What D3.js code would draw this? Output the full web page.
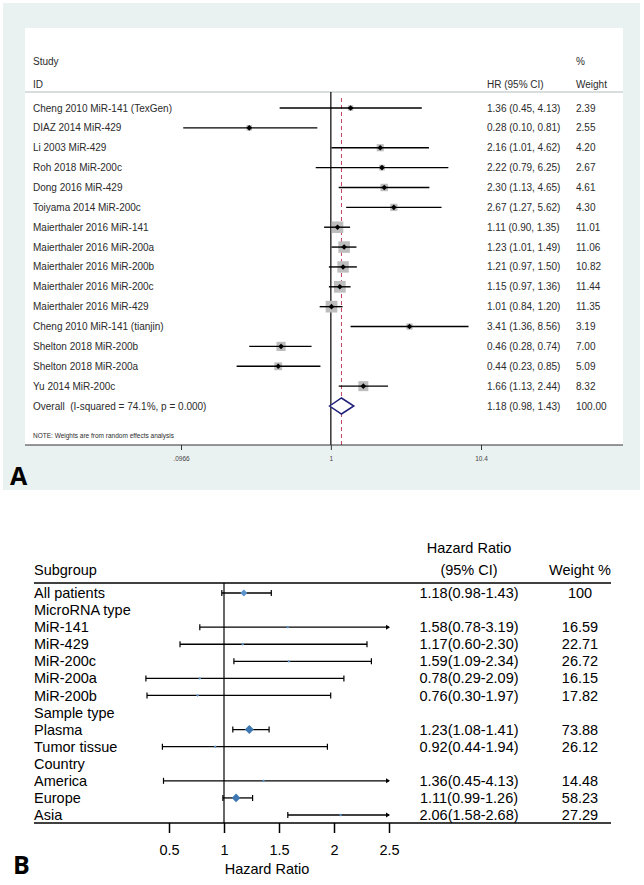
<!DOCTYPE html>
<html>
   <head>
      <script src="https://d3js.org/d3.v7.min.js"></script>
   </head>

   <style>
      body {
         margin: 0;
         background: white;
      }

      svg {
         font-family: "Liberation Sans", Arial, sans-serif;
      }
   </style>
   <body>
      <svg id="chart" width="644" height="885"></svg>

      <script>
         // ---- Panel A data (forest plot of studies) ----
         let studies = [
            'Cheng 2010 MiR-141 (TexGen)', 'DIAZ 2014 MiR-429', 'Li 2003 MiR-429',
            'Roh 2018 MiR-200c', 'Dong 2016 MiR-429', 'Toiyama 2014 MiR-200c',
            'Maierthaler 2016 MiR-141', 'Maierthaler 2016 MiR-200a', 'Maierthaler 2016 MiR-200b',
            'Maierthaler 2016 MiR-200c', 'Maierthaler 2016 MiR-429', 'Cheng 2010 MiR-141 (tianjin)',
            'Shelton 2018 MiR-200b', 'Shelton 2018 MiR-200a', 'Yu 2014 MiR-200c'
         ];
         let studyHR = [1.36, 0.28, 2.16, 2.22, 2.30, 2.67, 1.11, 1.23, 1.21, 1.15, 1.01, 3.41, 0.46, 0.44, 1.66];
         let studyLo = [0.45, 0.10, 1.01, 0.79, 1.13, 1.27, 0.90, 1.01, 0.97, 0.97, 0.84, 1.36, 0.28, 0.23, 1.13];
         let studyHi = [4.13, 0.81, 4.62, 6.25, 4.65, 5.62, 1.35, 1.49, 1.50, 1.36, 1.20, 8.56, 0.74, 0.85, 2.44];
         let studyWeight = [2.39, 2.55, 4.20, 2.67, 4.61, 4.30, 11.01, 11.06, 10.82, 11.44, 11.35, 3.19, 7.00, 5.09, 8.32];
         let overallA = {label: 'Overall  (I-squared = 74.1%, p = 0.000)', hr: 1.18, lo: 0.98, hi: 1.43, weight: 100.00};
         let ticksA = [0.0966, 1, 10.4];
         let tickLabelsA = ['.0966', '1', '10.4'];

         // ---- Panel B data (subgroup analysis) ----
         let subgroups = ['All patients', 'MicroRNA type', 'MiR-141', 'MiR-429', 'MiR-200c', 'MiR-200a', 'MiR-200b',
                          'Sample type', 'Plasma', 'Tumor tissue', 'Country', 'America', 'Europe', 'Asia'];
         let subHR = [1.18, null, 1.58, 1.17, 1.59, 0.78, 0.76, null, 1.23, 0.92, null, 1.36, 1.11, 2.06];
         let subLo = [0.98, null, 0.78, 0.60, 1.09, 0.29, 0.30, null, 1.08, 0.44, null, 0.45, 0.99, 1.58];
         let subHi = [1.43, null, 3.19, 2.30, 2.34, 2.09, 1.97, null, 1.41, 1.94, null, 4.13, 1.26, 2.68];
         let subWeight = [100, null, 16.59, 22.71, 26.72, 16.15, 17.82, null, 73.88, 26.12, null, 14.48, 58.23, 27.29];
         let ticksB = [0.5, 1, 1.5, 2, 2.5];

         let svg = d3.select('#chart');

         // =================== PANEL A ===================
         let a = svg.append('g');
         a.append('rect').attr('x', 3).attr('y', 3).attr('width', 637).attr('height', 487).attr('fill', '#eaf1f1');
         a.append('rect').attr('x', 25).attr('y', 28).attr('width', 598).attr('height', 417).attr('fill', 'white');
         a.append('rect').attr('x', 25).attr('y', 91).attr('width', 598).attr('height', 2).attr('fill', '#d9dddd');

         let xA = d3.scaleLog().domain([0.0966, 10.4]).range([181, 481]);
         let rowsA = studies.map((s, i) => ({label: s, hr: studyHR[i], lo: studyLo[i], hi: studyHi[i], weight: studyWeight[i]}));
         let yA = d3.scaleLinear().domain([0, rowsA.length]).range([108, 406]);
         let boxSide = d3.scaleSqrt().domain([0, 11]).range([0, 11.5]);
         let textA = '#2b2b2b';

         // header
         a.append('text').text('Study').attr('x', 33).attr('y', 65).attr('font-size', 10).attr('fill', textA);
         a.append('text').text('ID').attr('x', 33).attr('y', 88).attr('font-size', 10).attr('fill', textA);
         a.append('text').text('HR (95% CI)').attr('x', 487).attr('y', 88).attr('font-size', 10).attr('fill', textA);
         a.append('text').text('%').attr('x', 576).attr('y', 65).attr('font-size', 10).attr('fill', textA);
         a.append('text').text('Weight').attr('x', 576).attr('y', 88).attr('font-size', 10).attr('fill', textA);

         // reference lines
         a.append('line').attr('x1', xA(1)).attr('x2', xA(1)).attr('y1', 92).attr('y2', 445)
            .attr('stroke', 'black').attr('stroke-width', 1.2);
         a.append('line').attr('x1', xA(overallA.hr)).attr('x2', xA(overallA.hr)).attr('y1', 98).attr('y2', 445)
            .attr('stroke', '#c2415e').attr('stroke-width', 1).attr('stroke-dasharray', '4,3');

         let rowA = a.selectAll('g.rowA').data(rowsA).enter().append('g')
            .attr('class', 'rowA')
            .attr('transform', (d, i) => `translate(0, ${yA(i)})`);

         rowA.append('rect')
            .attr('x', (d) => xA(d.hr) - boxSide(d.weight) / 2)
            .attr('y', (d) => -boxSide(d.weight) / 2)
            .attr('width', (d) => boxSide(d.weight))
            .attr('height', (d) => boxSide(d.weight))
            .attr('fill', '#bdbdbd');
         rowA.append('line')
            .attr('x1', (d) => xA(d.lo)).attr('x2', (d) => xA(d.hi))
            .attr('stroke', 'black').attr('stroke-width', 1.4);
         rowA.append('path')
            .attr('d', (d) => `M${xA(d.hr) - 2.8},0L${xA(d.hr)},-2.8L${xA(d.hr) + 2.8},0L${xA(d.hr)},2.8Z`)
            .attr('fill', 'black');
         rowA.append('text').text((d) => d.label).attr('x', 33).attr('dy', '0.35em').attr('font-size', 10).attr('fill', textA);
         rowA.append('text').text((d) => `${d.hr.toFixed(2)} (${d.lo.toFixed(2)}, ${d.hi.toFixed(2)})`)
            .attr('x', 487).attr('dy', '0.35em').attr('font-size', 10).attr('fill', textA);
         rowA.append('text').text((d) => d.weight.toFixed(2)).attr('x', 576).attr('dy', '0.35em').attr('font-size', 10).attr('fill', textA);

         // overall row
         let yo = yA(rowsA.length);
         a.append('path')
            .attr('d', `M${xA(overallA.lo)},${yo}L${xA(overallA.hr)},${yo - 8}L${xA(overallA.hi)},${yo}L${xA(overallA.hr)},${yo + 8}Z`)
            .attr('fill', 'white').attr('stroke', '#1f1f78').attr('stroke-width', 1.5);
         a.append('text').text(overallA.label).attr('x', 33).attr('y', yo).attr('dy', '0.35em').attr('font-size', 10)
            .attr('fill', textA).style('white-space', 'pre');
         a.append('text').text(`${overallA.hr.toFixed(2)} (${overallA.lo.toFixed(2)}, ${overallA.hi.toFixed(2)})`)
            .attr('x', 487).attr('y', yo).attr('dy', '0.35em').attr('font-size', 10).attr('fill', textA);
         a.append('text').text(overallA.weight.toFixed(2)).attr('x', 576).attr('y', yo).attr('dy', '0.35em').attr('font-size', 10).attr('fill', textA);

         a.append('text').text('NOTE: Weights are from random effects analysis')
            .attr('x', 33).attr('y', 438).attr('font-size', 6.5).attr('fill', textA);

         // axis A
         a.append('line').attr('x1', 25).attr('x2', 623).attr('y1', 445).attr('y2', 445).attr('stroke', '#333').attr('stroke-width', 1);
         let axisA = d3.axisBottom(xA).tickValues(ticksA).tickFormat((d, i) => tickLabelsA[i]).tickSize(5);
         let gAxisA = a.append('g').attr('transform', 'translate(0, 445)').call(axisA);
         gAxisA.select('.domain').remove();
         gAxisA.selectAll('text').attr('font-size', 6.5).attr('fill', '#444').attr('dy', '1.2em')
            .style('font-family', '"Liberation Sans", Arial, sans-serif');
         gAxisA.selectAll('line').attr('stroke', '#333');

         a.append('text').text('A').attr('x', 10).attr('y', 485).attr('font-size', 25).attr('font-weight', 'bold')
            .style('font-family', '"Open Sans", sans-serif');

         // =================== PANEL B ===================
         let b = svg.append('g');
         let xB = d3.scaleLinear().domain([0.5, 2.5]).range([169, 389]);
         let yB = d3.scaleLinear().domain([0, subgroups.length - 1]).range([593, 815]);
         let rowsB = subgroups.map((s, i) => ({label: s, hr: subHR[i], lo: subLo[i], hi: subHi[i], weight: subWeight[i]}));
         let markSize = d3.scaleLinear().domain([30, 60]).range([1.4, 4.5]).clamp(true);
         let fsB = 14.5;

         b.append('text').text('Hazard Ratio').attr('x', 469).attr('y', 553).attr('text-anchor', 'middle').attr('font-size', fsB);
         b.append('text').text('(95% CI)').attr('x', 469).attr('y', 575).attr('text-anchor', 'middle').attr('font-size', fsB);
         b.append('text').text('Weight %').attr('x', 580).attr('y', 575).attr('text-anchor', 'middle').attr('font-size', fsB);
         b.append('text').text('Subgroup').attr('x', 34).attr('y', 575).attr('font-size', fsB);

         b.append('line').attr('x1', 34).attr('x2', 611).attr('y1', 583).attr('y2', 583).attr('stroke', 'black').attr('stroke-width', 1.5);
         b.append('line').attr('x1', xB(1)).attr('x2', xB(1)).attr('y1', 583).attr('y2', 823).attr('stroke', 'black').attr('stroke-width', 1.2);

         let rowB = b.selectAll('g.rowB').data(rowsB).enter().append('g')
            .attr('class', 'rowB')
            .attr('transform', (d, i) => `translate(0, ${yB(i)})`);

         rowB.append('text').text((d) => d.label).attr('x', 34).attr('dy', '0.35em').attr('font-size', fsB);

         let withData = rowB.filter((d) => d.hr !== null);
         withData.append('line')
            .attr('x1', (d) => xB(d.lo)).attr('x2', (d) => xB(Math.min(d.hi, 2.5)))
            .attr('stroke', 'black').attr('stroke-width', 1.3);
         withData.append('line')
            .attr('x1', (d) => xB(d.lo)).attr('x2', (d) => xB(d.lo)).attr('y1', -3).attr('y2', 3)
            .attr('stroke', 'black').attr('stroke-width', 1.2);
         withData.append('path')
            .attr('d', (d) => {
               if (d.hi > 2.5) {
                  let x = xB(2.5);
                  return `M${x - 3},-2.5L${x + 1},0L${x - 3},2.5Z`;
               }
               let x = xB(d.hi);
               return `M${x - 0.6},-3L${x + 0.6},-3L${x + 0.6},3L${x - 0.6},3Z`;
            })
            .attr('fill', 'black');
         withData.append('path')
            .attr('d', (d) => {
               let s = d.weight >= 100 ? 3.5 : markSize(d.weight);
               let x = xB(d.hr);
               return `M${x - s},0L${x},${-s}L${x + s},0L${x},${s}Z`;
            })
            .attr('fill', (d) => (d.weight >= 50 && d.weight < 100) ? '#3f77b0' : '#5b93cc');
         withData.append('text').text((d) => `${d.hr.toFixed(2)}(${d.lo.toFixed(2)}-${d.hi.toFixed(2)})`)
            .attr('x', 469).attr('text-anchor', 'middle').attr('dy', '0.35em').attr('font-size', fsB);
         withData.append('text').text((d) => d.weight >= 100 ? String(d.weight) : d.weight.toFixed(2))
            .attr('x', 580).attr('text-anchor', 'middle').attr('dy', '0.35em').attr('font-size', fsB);

         // axis B
         b.append('line').attr('x1', 34).attr('x2', 611).attr('y1', 823).attr('y2', 823).attr('stroke', 'black').attr('stroke-width', 1.5);
         let axisB = d3.axisBottom(xB).tickValues(ticksB).tickFormat(d3.format('')).tickSize(10);
         let gAxisB = b.append('g').attr('transform', 'translate(0, 823)').call(axisB);
         gAxisB.select('.domain').remove();
         gAxisB.selectAll('line').attr('stroke', 'black').attr('stroke-width', 1.5);
         gAxisB.selectAll('text').attr('font-size', fsB).attr('fill', 'black').attr('y', 22)
            .style('font-family', '"Liberation Sans", Arial, sans-serif');

         b.append('text').text('Hazard Ratio').attr('x', 267).attr('y', 874).attr('text-anchor', 'middle').attr('font-size', fsB);
         b.append('text').text('B').attr('x', 13).attr('y', 874).attr('font-size', 25).attr('font-weight', 'bold')
            .style('font-family', '"Open Sans", sans-serif');
      </script>
   </body>
</html>
